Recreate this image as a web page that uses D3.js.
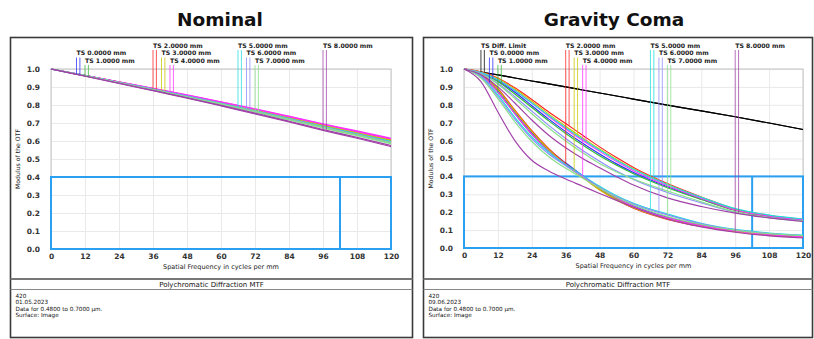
<!DOCTYPE html>
<html>
<head>
<meta charset="utf-8">
<script src="https://cdn.jsdelivr.net/npm/d3@7"></script>
<style>
  body { margin: 0; background: #fff; }
  svg { display: block; }
  text { font-family: "DejaVu Sans", Verdana, sans-serif; }
</style>
</head>
<body>
<div id="chart"></div>
<script>
// ---- data ----
const xTicks = [0, 12, 24, 36, 48, 60, 72, 84, 96, 108, 120];
const yTicks = [0, 0.1, 0.2, 0.3, 0.4, 0.5, 0.6, 0.7, 0.8, 0.9, 1.0];

const fieldNames = ["Diff. Limit", "0.0000 mm", "1.0000 mm", "2.0000 mm", "3.0000 mm",
  "4.0000 mm", "5.0000 mm", "6.0000 mm", "7.0000 mm", "8.0000 mm"];
const fieldColors = ["#000000", "#2a2aff", "#33bb33", "#ff2020", "#c8c800",
  "#ff30ff", "#20dede", "#8c8cff", "#88e088", "#a040a8"];
// frequency where each legend drop line sits
const legendFreq = [6, 9, 12, 36, 39, 42, 66, 69, 72, 96];

// spec box (MTF >= 0.4 up to 102 cycles/mm)
const specMTF = 0.4;
const specFreq = 102;

// Nominal: index 0 = diff. limit (not plotted), 1..9 = fields
const nominalFreq = [0, 12, 24, 36, 48, 60, 72, 84, 96, 108, 120];
const nominalT = [
  null,
  [1, 0.963, 0.926, 0.888, 0.850, 0.810, 0.769, 0.727, 0.683, 0.642, 0.599],
  [1, 0.963, 0.925, 0.887, 0.848, 0.808, 0.768, 0.725, 0.681, 0.639, 0.596],
  [1, 0.964, 0.927, 0.890, 0.852, 0.813, 0.773, 0.731, 0.688, 0.647, 0.605],
  [1, 0.964, 0.926, 0.889, 0.851, 0.812, 0.771, 0.729, 0.686, 0.644, 0.602],
  [1, 0.965, 0.928, 0.892, 0.854, 0.816, 0.777, 0.735, 0.693, 0.652, 0.611],
  [1, 0.963, 0.925, 0.886, 0.847, 0.807, 0.766, 0.723, 0.678, 0.636, 0.593],
  [1, 0.962, 0.924, 0.885, 0.846, 0.805, 0.763, 0.720, 0.675, 0.633, 0.589],
  [1, 0.962, 0.923, 0.884, 0.844, 0.803, 0.761, 0.717, 0.672, 0.629, 0.585],
  [1, 0.960, 0.920, 0.879, 0.838, 0.795, 0.751, 0.706, 0.659, 0.615, 0.569]
];
const nominalS = [
  null,
  [1, 0.964, 0.927, 0.889, 0.851, 0.812, 0.772, 0.730, 0.686, 0.645, 0.603],
  [1, 0.964, 0.926, 0.889, 0.850, 0.811, 0.770, 0.728, 0.684, 0.643, 0.600],
  [1, 0.964, 0.928, 0.891, 0.854, 0.815, 0.775, 0.734, 0.691, 0.651, 0.609],
  [1, 0.964, 0.927, 0.890, 0.852, 0.814, 0.774, 0.732, 0.689, 0.648, 0.606],
  [1, 0.965, 0.929, 0.893, 0.856, 0.818, 0.779, 0.738, 0.696, 0.656, 0.615],
  [1, 0.963, 0.925, 0.888, 0.849, 0.809, 0.768, 0.725, 0.682, 0.640, 0.597],
  [1, 0.963, 0.925, 0.887, 0.848, 0.807, 0.766, 0.723, 0.679, 0.637, 0.594],
  [1, 0.963, 0.924, 0.886, 0.846, 0.806, 0.765, 0.721, 0.677, 0.634, 0.591],
  [1, 0.961, 0.921, 0.881, 0.840, 0.798, 0.755, 0.710, 0.664, 0.620, 0.575]
];

// Gravity coma
const comaFreq = [0, 6, 12, 18, 24, 30, 36, 42, 48, 54, 60, 72, 84, 96, 108, 120];
const comaT = [
  [1, 0.983, 0.967, 0.950, 0.933, 0.917, 0.900, 0.883, 0.866, 0.849, 0.832, 0.798, 0.766, 0.733, 0.698, 0.662],
  [1, 0.970, 0.880, 0.760, 0.645, 0.550, 0.475, 0.405, 0.335, 0.280, 0.235, 0.172, 0.130, 0.100, 0.080, 0.068],
  [1, 0.965, 0.870, 0.750, 0.635, 0.545, 0.470, 0.400, 0.330, 0.275, 0.230, 0.168, 0.127, 0.098, 0.078, 0.066],
  [1, 0.975, 0.890, 0.770, 0.655, 0.555, 0.470, 0.395, 0.325, 0.268, 0.222, 0.160, 0.120, 0.091, 0.072, 0.060],
  [1, 0.970, 0.885, 0.765, 0.650, 0.550, 0.465, 0.395, 0.325, 0.270, 0.225, 0.163, 0.122, 0.093, 0.074, 0.062],
  [1, 0.965, 0.870, 0.750, 0.635, 0.540, 0.465, 0.400, 0.335, 0.280, 0.232, 0.168, 0.125, 0.095, 0.075, 0.063],
  [1, 0.960, 0.855, 0.730, 0.620, 0.535, 0.465, 0.405, 0.345, 0.292, 0.250, 0.190, 0.138, 0.104, 0.084, 0.072],
  [1, 0.955, 0.845, 0.720, 0.610, 0.525, 0.460, 0.400, 0.340, 0.287, 0.245, 0.185, 0.135, 0.101, 0.081, 0.070],
  [1, 0.950, 0.835, 0.705, 0.595, 0.510, 0.445, 0.390, 0.335, 0.283, 0.240, 0.176, 0.131, 0.100, 0.080, 0.069],
  [1, 0.930, 0.760, 0.600, 0.490, 0.430, 0.385, 0.345, 0.305, 0.266, 0.228, 0.162, 0.118, 0.088, 0.068, 0.056]
];
const comaS = [
  [1, 0.983, 0.967, 0.950, 0.933, 0.917, 0.900, 0.883, 0.866, 0.849, 0.832, 0.798, 0.766, 0.733, 0.698, 0.662],
  [1, 0.980, 0.935, 0.870, 0.795, 0.720, 0.650, 0.585, 0.525, 0.470, 0.422, 0.342, 0.274, 0.212, 0.178, 0.157],
  [1, 0.978, 0.930, 0.860, 0.785, 0.710, 0.640, 0.575, 0.515, 0.462, 0.415, 0.337, 0.271, 0.210, 0.176, 0.155],
  [1, 0.985, 0.950, 0.895, 0.830, 0.760, 0.695, 0.630, 0.565, 0.505, 0.450, 0.360, 0.285, 0.218, 0.183, 0.160],
  [1, 0.983, 0.945, 0.888, 0.820, 0.748, 0.680, 0.615, 0.553, 0.495, 0.442, 0.355, 0.282, 0.215, 0.180, 0.158],
  [1, 0.980, 0.940, 0.880, 0.810, 0.735, 0.665, 0.600, 0.540, 0.483, 0.432, 0.348, 0.277, 0.212, 0.178, 0.157],
  [1, 0.980, 0.940, 0.880, 0.810, 0.740, 0.672, 0.608, 0.548, 0.490, 0.440, 0.355, 0.283, 0.220, 0.184, 0.162],
  [1, 0.975, 0.920, 0.845, 0.765, 0.685, 0.612, 0.545, 0.485, 0.430, 0.383, 0.310, 0.252, 0.200, 0.170, 0.152],
  [1, 0.972, 0.915, 0.835, 0.750, 0.670, 0.598, 0.532, 0.472, 0.425, 0.385, 0.318, 0.258, 0.202, 0.170, 0.150],
  [1, 0.968, 0.900, 0.810, 0.715, 0.630, 0.560, 0.500, 0.448, 0.398, 0.352, 0.280, 0.232, 0.195, 0.168, 0.148]
];

const infoNominal = ["420", "01.05.2023", "Data for 0.4800 to 0.7000 \u00b5m.", "Surface: Image"];
const infoComa = ["420", "09.06.2023", "Data for 0.4800 to 0.7000 \u00b5m.", "Surface: Image"];

// ---- drawing ----
const width = 814, height = 339;
const svg = d3.select("#chart").append("svg")
  .attr("width", width).attr("height", height)
  .attr("viewBox", [0, 0, width, height]);

function valueAt(freq, vals, f) {
  const i = Math.min(d3.bisectRight(freq, f), freq.length - 1);
  const t = (f - freq[i - 1]) / (freq[i] - freq[i - 1]);
  return vals[i - 1] + t * (vals[i] - vals[i - 1]);
}

function panel(p) {
  const g = svg.append("g");

  // outer frame
  g.append("rect")
    .attr("x", p.fx0).attr("y", 37.5)
    .attr("width", p.fx1 - p.fx0).attr("height", 300)
    .attr("fill", "none").attr("stroke", "#3a3a3a").attr("stroke-width", 1.6);

  g.append("text")
    .attr("x", p.cx).attr("y", 26)
    .attr("text-anchor", "middle")
    .attr("font-size", 18.5).attr("font-weight", "bold").attr("fill", "#111")
    .text(p.title);

  const x = d3.scaleLinear().domain([0, 120]).range([p.l, p.r]);
  const y = d3.scaleLinear().domain([0, 1]).range([p.b, p.t]);

  // axes + grid
  g.append("g")
    .attr("transform", `translate(0,${p.b})`)
    .call(d3.axisBottom(x).tickValues(xTicks).tickSize(-(p.b - p.t)).tickPadding(5).tickFormat(d3.format("d")))
    .call(a => a.select(".domain").remove())
    .call(a => a.selectAll("line").attr("stroke", "#e9e9e9"))
    .call(a => a.selectAll("text").attr("font-size", 7.5).attr("font-weight", "bold")
      .attr("fill", "#333").attr("font-family", "DejaVu Sans"));

  g.append("g")
    .attr("transform", `translate(${p.l},0)`)
    .call(d3.axisLeft(y).tickValues(yTicks).tickSize(-(p.r - p.l)).tickPadding(11).tickFormat(d3.format(".1f")))
    .call(a => a.select(".domain").remove())
    .call(a => a.selectAll("line").attr("stroke", "#e9e9e9"))
    .call(a => a.selectAll("text").attr("font-size", 7.5).attr("font-weight", "bold")
      .attr("fill", "#333").attr("font-family", "DejaVu Sans"));

  g.append("rect")
    .attr("x", p.l).attr("y", p.t)
    .attr("width", p.r - p.l).attr("height", p.b - p.t)
    .attr("fill", "none").attr("stroke", "#c4c4c4");

  g.append("text")
    .attr("x", (p.l + p.r) / 2).attr("y", p.b + 20)
    .attr("text-anchor", "middle").attr("font-size", 6.5).attr("fill", "#222")
    .text("Spatial Frequency in cycles per mm");

  g.append("text")
    .attr("transform", `translate(${p.fx0 + 9},${(p.t + p.b) / 2}) rotate(-90)`)
    .attr("text-anchor", "middle").attr("font-size", 6.2).attr("fill", "#222")
    .text("Modulus of the OTF");

  // spec box
  g.append("rect")
    .attr("x", x(0)).attr("y", y(specMTF))
    .attr("width", x(120) - x(0)).attr("height", y(0) - y(specMTF))
    .attr("fill", "none").attr("stroke", "#2aa0f2").attr("stroke-width", 2);
  g.append("line")
    .attr("x1", x(specFreq)).attr("x2", x(specFreq))
    .attr("y1", y(specMTF)).attr("y2", y(0))
    .attr("stroke", "#2aa0f2").attr("stroke-width", 2);

  // curves
  const line = d3.line()
    .x((d, i) => x(p.freq[i]))
    .y(d => y(d))
    .curve(d3.curveMonotoneX);

  const fields = d3.range(p.first, fieldNames.length);
  const curves = [];
  fields.forEach(k => {
    curves.push({ k, vals: p.sCurves[k] });
    curves.push({ k, vals: p.tCurves[k] });
  });

  g.append("g")
    .attr("fill", "none")
    .attr("stroke-width", 1.15)
    .selectAll("path")
    .data(curves)
    .join("path")
    .attr("stroke", d => fieldColors[d.k])
    .attr("d", d => line(d.vals));

  // legend labels with drop lines
  const rowBase = [47.5, 55, 62.5];
  const lg = g.append("g");
  fields.forEach(k => {
    const row = k % 3;
    const fT = legendFreq[k];
    const fS = fT + 1.2;
    const top = rowBase[row] + 2.5;
    [[fT, p.tCurves[k]], [fS, p.sCurves[k]]].forEach(([f, vals]) => {
      lg.append("line")
        .attr("x1", x(f)).attr("x2", x(f))
        .attr("y1", top).attr("y2", y(valueAt(p.freq, vals, f)))
        .attr("stroke", fieldColors[k]).attr("stroke-width", 1).attr("opacity", 0.75);
    });
    lg.append("text")
      .attr("x", x(fT)).attr("y", rowBase[row])
      .attr("font-size", 6.2).attr("font-weight", "bold").attr("fill", "#222")
      .text("TS " + fieldNames[k]);
  });

  // bottom info band
  g.append("line")
    .attr("x1", p.fx0).attr("x2", p.fx1).attr("y1", 279).attr("y2", 279)
    .attr("stroke", "#777").attr("stroke-width", 2);
  g.append("text")
    .attr("x", (p.fx0 + p.fx1) / 2).attr("y", 286.8)
    .attr("text-anchor", "middle").attr("font-size", 7).attr("fill", "#111")
    .text("Polychromatic Diffraction MTF");
  g.append("line")
    .attr("x1", p.fx0).attr("x2", p.fx1).attr("y1", 289.5).attr("y2", 289.5)
    .attr("stroke", "#888").attr("stroke-width", 1);

  g.append("g").selectAll("text")
    .data(p.info)
    .join("text")
    .attr("x", p.fx0 + 5)
    .attr("y", (d, i) => 297.5 + i * 6.6)
    .attr("font-size", 5.7).attr("fill", "#111")
    .text(d => d);
}

panel({
  title: "Nominal", cx: 220, fx0: 10.5, fx1: 412.5,
  l: 51, r: 391, t: 69, b: 249,
  freq: nominalFreq, tCurves: nominalT, sCurves: nominalS, first: 1,
  info: infoNominal
});

panel({
  title: "Gravity Coma", cx: 614, fx0: 423.5, fx1: 812.5,
  l: 464, r: 803, t: 69, b: 248,
  freq: comaFreq, tCurves: comaT, sCurves: comaS, first: 0,
  info: infoComa
});
</script>
</body>
</html>
